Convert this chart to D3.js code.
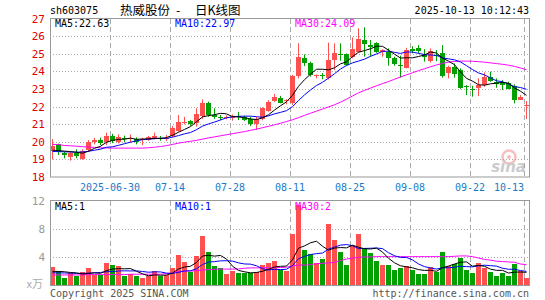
<!DOCTYPE html>
<html><head><meta charset="utf-8">
<script src="https://cdn.jsdelivr.net/npm/d3@7"></script>
<style>body{margin:0;background:#fff}svg{display:block}</style>
</head><body><svg id="c" width="545" height="300"></svg>
<script>
// ---------- data ----------
const dates = ["06-16","06-17","06-18","06-19","06-20","06-23","06-24","06-25","06-26","06-27","06-30",
"07-01","07-02","07-03","07-04","07-07","07-08","07-09","07-10","07-11","07-14","07-15","07-16","07-17","07-18","07-21","07-22","07-23","07-24","07-25","07-28","07-29","07-30","07-31",
"08-01","08-04","08-05","08-06","08-07","08-08","08-11","08-12","08-13","08-14","08-15","08-18","08-19","08-20","08-21","08-22","08-25","08-26","08-27","08-28","08-29",
"09-01","09-02","09-03","09-04","09-05","09-08","09-09","09-10","09-11","09-12","09-15","09-16","09-17","09-18","09-19","09-22","09-23","09-24","09-25","09-26","09-29","09-30",
"10-09","10-10","10-13"];
const open = [19.48,19.85,19.35,19.15,19.38,19.02,19.53,20.00,20.10,20.00, 20.35,19.98,20.24,20.16,20.14,20.08,20.10,20.23,20.23,20.14, 20.33,20.63,21.10,21.18,21.05,21.45,22.22,21.50,21.42,21.38, 21.38,21.45,21.42,21.27,21.00,21.27,21.76,22.33,22.50,22.35, 22.18,23.73,24.74,24.49,23.75,23.80,23.60,24.64,24.98,24.96, 24.83,25.12,25.78,25.50,25.59,25.08,25.11,24.77,24.36,24.20, 25.25,25.30,24.92,24.58,24.95,25.02,23.88,24.22,24.07,23.18, 23.00,23.07,23.22,23.69,23.37,23.31,23.31,23.18,22.38,22.05];
const high = [20.15,19.90,19.44,19.44,19.57,19.57,20.10,20.23,20.23,20.52, 20.45,20.42,20.35,20.42,20.25,20.23,20.33,20.52,20.33,20.38, 20.90,21.52,21.42,21.24,21.90,22.41,22.28,21.90,21.52,21.50, 21.55,21.70,21.48,21.42,21.42,21.95,22.36,22.71,22.60,22.42, 23.79,25.59,24.96,24.55,23.82,23.90,25.63,25.59,25.59,25.02, 25.93,26.44,26.50,25.78,25.65,25.26,25.30,24.83,24.89,25.34, 25.43,25.49,25.26,25.30,25.21,25.49,24.32,24.45,24.17,23.22, 23.18,23.60,23.94,23.98,23.60,23.50,23.41,23.26,22.65,22.31];
const low = [19.00,19.25,19.06,18.93,19.06,18.98,19.44,19.85,19.81,19.81, 19.92,19.91,19.97,19.95,19.85,19.81,20.06,20.14,20.06,20.04, 20.25,20.57,20.99,20.91,20.86,21.30,21.43,21.30,21.23,21.28, 21.20,21.23,21.18,20.89,20.67,21.22,21.70,22.27,22.18,22.13, 22.09,23.60,24.30,23.70,23.60,23.55,23.54,24.07,24.60,24.30, 24.74,25.08,24.83,24.83,25.05,24.83,24.32,24.32,23.64,24.17, 25.02,25.02,24.55,24.50,24.58,23.64,23.60,23.64,22.99,22.65, 22.56,22.60,23.12,23.41,23.07,22.94,22.99,22.18,22.37,21.29];
const close = [19.78,19.44,19.26,19.34,19.21,19.50,20.00,20.10,19.91,20.35, 20.05,20.27,20.16,20.22,20.00,20.14,20.29,20.35,20.18,20.23, 20.80,21.14,21.15,20.99,21.58,22.20,21.50,21.42,21.38,21.42, 21.42,21.40,21.23,21.00,21.27,21.90,22.27,22.56,22.22,22.40, 23.73,24.83,24.45,23.79,23.80,23.73,24.64,25.06,24.90,24.36, 25.25,25.84,25.55,25.40,25.11,25.20,24.77,24.39,24.30,25.20, 25.17,25.15,24.83,25.15,24.90,23.75,24.26,23.83,23.07,23.10, 22.95,23.25,23.70,23.45,23.28,23.20,22.98,22.35,22.55,22.10];
const volume = [2.67,2.05,1.10,1.80,1.33,1.86,2.52,1.48,1.48,3.24, 2.95,2.81,1.38,1.62,1.38,1.10,1.38,2.05,1.38,1.48, 2.52,4.33,3.38,1.95,4.19,7.10,4.81,2.81,2.43,1.62, 2.05,1.81,1.81,1.71,1.86,2.90,3.19,3.48,2.19,2.05, 7.33,11.48,5.05,4.43,3.14,3.76,8.76,6.48,4.81,2.90, 5.67,7.33,5.38,4.67,3.48,2.90,2.90,2.19,2.52,2.76, 2.19,1.62,1.62,2.67,1.95,4.81,2.76,3.05,3.95,2.19, 1.81,3.24,2.43,1.95,1.33,1.81,1.33,3.05,2.05,1.10];
// MA30 of price (window starts before visible range)
const ma30Price = [19.85,19.84,19.79,19.77,19.75,19.72,19.70,19.68,19.66,19.65, 19.64,19.64,19.64,19.64,19.64,19.64,19.66,19.69,19.73,19.78, 19.85,19.92,19.98,20.03,20.08,20.15,20.22,20.28,20.34,20.40, 20.46,20.52,20.58,20.65,20.72,20.80,20.88,20.96,21.05,21.15, 21.25,21.37,21.50,21.62,21.74,21.86,21.98,22.10,22.25,22.42, 22.60,22.78,22.92,23.05,23.18,23.30,23.42,23.55,23.68,23.80, 23.92,24.04,24.15,24.26,24.36,24.45,24.52,24.56,24.58,24.58, 24.57,24.55,24.52,24.48,24.44,24.40,24.35,24.28,24.19,24.09];
// leading MA values (before the window fills)
const ma5PriceLead = [19.52,19.50,19.47,19.44];
const ma10PriceLead = [19.45,19.44,19.43,19.42,19.41,19.42,19.46,19.52,19.58];
const ma30Vol = [1.5,1.5,1.5,1.5,1.5,1.5, 1.55,1.55,1.55,1.55,1.55,1.55,1.55, 1.6,1.6,1.6,1.6,1.6,1.6, 1.7,1.8,2.0, 2.05,2.05,2.1, 2.2,2.25,2.3,2.33,2.33,2.33,2.35, 2.45,2.5,2.5,2.52,2.52,2.52,2.55,2.6, 2.8,2.9,2.9,2.95, 3.1,3.15,3.2,3.3,3.55, 3.75,3.9,4.0,4.05, 4.05,4.1,4.1,4.1,4.1,4.1,4.1,4.1,4.1,4.1,4.1,4.1,4.1,4.1,4.15, 4.2,4.2,4.1, 3.9,3.7,3.6,3.45,3.4,3.35,3.3,3.05,2.95];
const ma5VolLead = [2.0,2.0,1.95,1.85];
const ma10VolLead = [1.8,1.8,1.78,1.75,1.72,1.72,1.75,1.8,1.85];
const priceTicks = [18,19,20,21,22,23,24,25,26,27];
const volTicks = [4,8,12];
const dateTicks = ["06-30","07-14","07-28","08-11","08-25","09-08","09-22","10-13"];
const dateTickLabels = ["2025-06-30","07-14","07-28","08-11","08-25","09-08","09-22","10-13"];
const priceMaLabels = ["MA5:22.63","MA10:22.97","MA30:24.09"];
const volMaLabels = ["MA5:1","MA10:1","MA30:2"];
const titleParts = ["热威股份","-","日K线图"];

// ---------- helpers ----------
function rolling(arr, n, lead){ return arr.map((v,i)=> i < n-1 ? lead[i] : d3.mean(arr.slice(i-n+1,i+1))); }
const ma5P = rolling(close,5,ma5PriceLead), ma10P = rolling(close,10,ma10PriceLead);
const ma5V = rolling(volume,5,ma5VolLead), ma10V = rolling(volume,10,ma10VolLead);

const RED="#ff5050", GREEN="#00a000", GRID="#aaaaaa", BORDER="#999999";
const MONO="'DejaVu Sans Mono', monospace";
const CJK="'Noto Sans CJK SC', sans-serif";
const svg = d3.select("#c");
const L=50, R=529;
const x = d3.scaleBand().domain(dates).range([50,530]).padding(0);
const y = d3.scaleLinear().domain([18,27]).range([177,18.5]);
const yv = d3.scaleLinear().domain([0,12]).range([285.5,201]);
const cx = d => x(d)+2.5;
const crisp = v => Math.round(v)+0.5;

svg.append("rect").attr("width",545).attr("height",300).attr("fill","#fff");
const defs = svg.append("defs");
defs.append("clipPath").attr("id","cm").append("rect").attr("x",L).attr("y",18).attr("width",R-L).attr("height",159.5);
defs.append("clipPath").attr("id","cv").append("rect").attr("x",L).attr("y",201).attr("width",R-L).attr("height",85);

// ---------- grids ----------
const g = svg.append("g");
priceTicks.filter(p=>p>18 && p<27).forEach(p=>{
  g.append("line").attr("x1",L).attr("x2",R).attr("y1",crisp(y(p))).attr("y2",crisp(y(p)))
   .attr("stroke",GRID).attr("stroke-dasharray","1,2");
});
volTicks.filter(v=>v<12).forEach(v=>{
  g.append("line").attr("x1",L).attr("x2",R).attr("y1",crisp(yv(v))).attr("y2",crisp(yv(v)))
   .attr("stroke",GRID).attr("stroke-dasharray","1,2");
});
dateTicks.forEach(d=>{
  const xx = x(d)+0.5;
  g.append("line").attr("x1",xx).attr("x2",xx).attr("y1",19).attr("y2",177).attr("stroke",GRID).attr("stroke-dasharray","5,3");
  g.append("line").attr("x1",xx).attr("x2",xx).attr("y1",201).attr("y2",285).attr("stroke",GRID).attr("stroke-dasharray","5,3");
});

// ---------- watermark ----------
const wm = svg.append("g").attr("opacity",0.5);
wm.append("circle").attr("cx",509).attr("cy",157).attr("r",6.5).attr("fill","none").attr("stroke","#f08080").attr("stroke-width",2.5);
wm.append("circle").attr("cx",509).attr("cy",157).attr("r",2).attr("fill","#f08080");
wm.append("text").attr("x",526).attr("y",172).attr("text-anchor","end").attr("font-family","'DejaVu Sans', sans-serif")
  .attr("font-size",15).attr("font-weight","bold").attr("font-style","italic").attr("fill","#999").text("sina");

// ---------- candles ----------
const cg = svg.append("g").attr("clip-path","url(#cm)");
dates.forEach((d,i)=>{
  const up = close[i] >= open[i];
  const col = up ? RED : GREEN;
  cg.append("line").attr("x1",cx(d)).attr("x2",cx(d)).attr("y1",y(high[i])).attr("y2",y(low[i])).attr("stroke",col);
  const y0 = Math.round(y(Math.max(open[i],close[i]))), y1 = Math.round(y(Math.min(open[i],close[i])));
  cg.append("rect").attr("x",x(d)).attr("width",x.bandwidth()-1).attr("y",y0).attr("height",Math.max(1,y1-y0)).attr("fill",col);
});
const lineP = arr => d3.line().x((v,i)=>cx(dates[i])).y(v=>y(v))(arr);
[[ma30Price,"#ff00ff"],[ma10P,"#0000ff"],[ma5P,"#000000"]].forEach(([a,c])=>{
  cg.append("path").attr("d",lineP(a)).attr("fill","none").attr("stroke",c).attr("stroke-width",1);
});

// ---------- volume ----------
const vg = svg.append("g").attr("clip-path","url(#cv)");
dates.forEach((d,i)=>{
  const col = close[i] >= open[i] ? RED : GREEN;
  const top = Math.round(yv(volume[i]));
  vg.append("rect").attr("x",x(d)).attr("width",x.bandwidth()-1).attr("y",top).attr("height",Math.round(yv(0))-top).attr("fill",col);
});
const lineV = arr => d3.line().x((v,i)=>cx(dates[i])).y(v=>yv(v))(arr);
[[ma30Vol,"#ff00ff"],[ma10V,"#0000ff"],[ma5V,"#000000"]].forEach(([a,c])=>{
  vg.append("path").attr("d",lineV(a)).attr("fill","none").attr("stroke",c).attr("stroke-width",1);
});

// ---------- borders ----------
svg.append("rect").attr("x",50.5).attr("y",18.5).attr("width",479).attr("height",158.5).attr("fill","none").attr("stroke",BORDER);
svg.append("rect").attr("x",50.5).attr("y",200.5).attr("width",479).attr("height",85).attr("fill","none").attr("stroke",BORDER);

// ---------- text ----------
const T = (xx,yy,txt,col,anchor,size,fam)=> svg.append("text").attr("x",xx).attr("y",yy).attr("fill",col)
  .attr("text-anchor",anchor||"start").attr("font-size",size||10).attr("font-family",fam||MONO).text(txt);
priceTicks.forEach(p=> T(45, y(p)+4, String(p), "#e00000","end",11));
volTicks.forEach(v=> T(45, yv(v)+4, String(v), "#999","end",11));
T(43, 288, "x万", "#aaa","end",11,CJK);
dateTicks.forEach((d,i)=>{
  const lab = dateTickLabels[i];
  const w = lab.length*6.02;
  const c = Math.min(x(d), 524 - w/2);
  T(c, 191, lab, "#1a7ac8","middle",10);
});
T(50, 14, "sh603075", "#000");
const titleX = [120, 176, 195];
titleParts.forEach((t,i)=> T(titleX[i], 15, t, "#000","start",12.5,CJK));
T(529, 14, "2025-10-13 10:12:43", "#000","end");
const maCols = ["#000000","#0000ff","#ff00ff"], maX = [55,175,295];
priceMaLabels.forEach((t,i)=> T(maX[i], 27, t, maCols[i]));
volMaLabels.forEach((t,i)=> T(maX[i], 210, t, maCols[i]));
T(50, 297, "Copyright 2025 SINA.COM", "#555");
T(529, 297, "http://finance.sina.com.cn", "#555","end");
</script></body></html>
